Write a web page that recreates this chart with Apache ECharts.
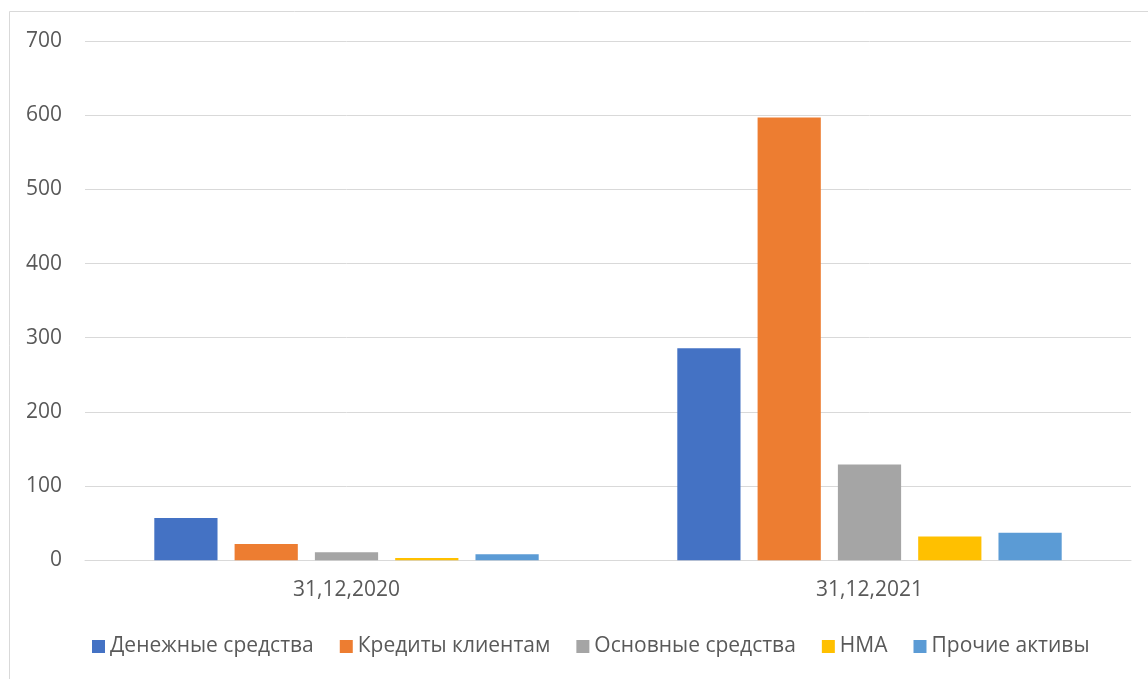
<!DOCTYPE html>
<html>
<head>
<meta charset="utf-8">
<script src="https://cdn.jsdelivr.net/npm/echarts@6/dist/echarts.min.js"></script>
<style>
  html, body { margin: 0; padding: 0; background: #fff; }
  #chart { width: 1148px; height: 679px; }
</style>
</head>
<body>
<div id="chart"></div>
<script>
// Reporting dates on the category axis
const categories = ['31,12,2020', '31,12,2021'];

// Asset structure by item
const seriesNames = ['Денежные средства', 'Кредиты клиентам', 'Основные средства', 'НМА', 'Прочие активы'];
const cash = [57, 286];
const loans = [22, 597];
const fixedAssets = [11, 129];
const intangibles = [3, 32];
const otherAssets = [8, 37];

const yTicks = [0, 100, 200, 300, 400, 500, 600, 700];

const colors = ['#4472C4', '#ED7D31', '#A5A5A5', '#FFC000', '#5B9BD5'];
const values = [cash, loans, fixedAssets, intangibles, otherAssets];

const font = '"Open Sans", "Noto Sans", sans-serif';

const chart = echarts.init(document.getElementById('chart'), null, { renderer: 'canvas' });
chart.setOption({
  animation: false,
  color: colors,
  textStyle: { fontFamily: font },
  graphic: [{
    type: 'rect',
    shape: { x: 9.5, y: 11.5, width: 1160, height: 700 },
    style: { fill: 'none', stroke: '#d9d9d9', lineWidth: 1 },
    silent: true
  }],
  grid: { left: 85, right: 17, top: 41, bottom: 118.7, containLabel: false },
  legend: {
    top: 631,
    left: 87,
    itemWidth: 13,
    itemHeight: 13,
    itemGap: 26,
    icon: 'rect',
    textStyle: { color: '#595959', fontSize: 21, fontFamily: font },
    data: seriesNames
  },
  xAxis: {
    type: 'category',
    data: categories,
    axisLine: { lineStyle: { color: '#d9d9d9', width: 1 } },
    axisTick: { show: false },
    axisLabel: { color: '#595959', fontSize: 21, margin: 19, fontFamily: font }
  },
  yAxis: {
    type: 'value',
    min: yTicks[0],
    max: yTicks[yTicks.length - 1],
    interval: 100,
    axisLine: { show: false },
    axisTick: { show: false },
    axisLabel: { color: '#595959', fontSize: 21, margin: 23, fontFamily: font },
    splitLine: { lineStyle: { color: '#d9d9d9', width: 1 } }
  },
  series: seriesNames.map((name, i) => ({
    name: name,
    type: 'bar',
    data: values[i],
    barGap: '27%',
    barCategoryGap: '26.5%',
    itemStyle: { color: colors[i] }
  }))
});
</script>
</body>
</html>
